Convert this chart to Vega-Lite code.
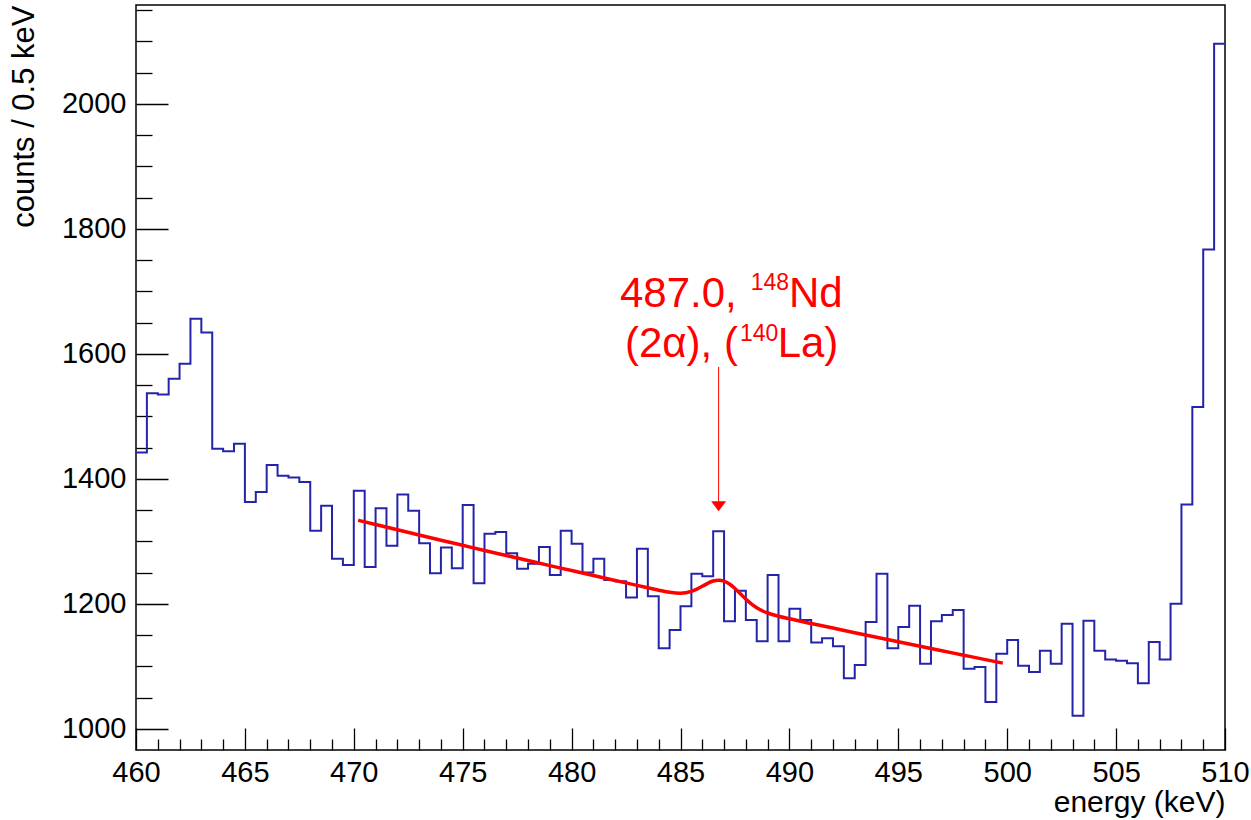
{
  "$schema": "https://vega.github.io/schema/vega-lite/v6.json",
  "width": 1089,
  "height": 745,
  "autosize": {"type": "none"},
  "padding": {"left": 136, "top": 5, "right": 26, "bottom": 70},
  "background": "white",
  "config": {
    "view": {"stroke": "#000", "strokeWidth": 1.5},
    "axis": {
      "labelFont": "Liberation Sans",
      "titleFont": "Liberation Sans",
      "labelColor": "#000",
      "titleColor": "#000",
      "labelFontWeight": "normal",
      "titleFontWeight": "normal",
      "grid": false,
      "domain": false,
      "tickColor": "#000",
      "tickWidth": 1.3
    }
  },
  "datasets": {
    "hist": [
      {"e": 460.0, "c": 1442}, {"e": 460.5, "c": 1537}, {"e": 461.0, "c": 1535}, {"e": 461.5, "c": 1560},
      {"e": 462.0, "c": 1584}, {"e": 462.5, "c": 1656}, {"e": 463.0, "c": 1634}, {"e": 463.5, "c": 1448},
      {"e": 464.0, "c": 1444}, {"e": 464.5, "c": 1456}, {"e": 465.0, "c": 1363}, {"e": 465.5, "c": 1379},
      {"e": 466.0, "c": 1422}, {"e": 466.5, "c": 1405}, {"e": 467.0, "c": 1402}, {"e": 467.5, "c": 1395},
      {"e": 468.0, "c": 1317}, {"e": 468.5, "c": 1357}, {"e": 469.0, "c": 1272}, {"e": 469.5, "c": 1262},
      {"e": 470.0, "c": 1381}, {"e": 470.5, "c": 1259}, {"e": 471.0, "c": 1353}, {"e": 471.5, "c": 1293},
      {"e": 472.0, "c": 1375}, {"e": 472.5, "c": 1349}, {"e": 473.0, "c": 1297}, {"e": 473.5, "c": 1249},
      {"e": 474.0, "c": 1290}, {"e": 474.5, "c": 1257}, {"e": 475.0, "c": 1358}, {"e": 475.5, "c": 1233},
      {"e": 476.0, "c": 1312}, {"e": 476.5, "c": 1315}, {"e": 477.0, "c": 1281}, {"e": 477.5, "c": 1256},
      {"e": 478.0, "c": 1264}, {"e": 478.5, "c": 1291}, {"e": 479.0, "c": 1246}, {"e": 479.5, "c": 1317},
      {"e": 480.0, "c": 1296}, {"e": 480.5, "c": 1250}, {"e": 481.0, "c": 1272}, {"e": 481.5, "c": 1238},
      {"e": 482.0, "c": 1236}, {"e": 482.5, "c": 1210}, {"e": 483.0, "c": 1288}, {"e": 483.5, "c": 1212},
      {"e": 484.0, "c": 1129}, {"e": 484.5, "c": 1158}, {"e": 485.0, "c": 1196}, {"e": 485.5, "c": 1248},
      {"e": 486.0, "c": 1244}, {"e": 486.5, "c": 1316}, {"e": 487.0, "c": 1172}, {"e": 487.5, "c": 1221},
      {"e": 488.0, "c": 1174}, {"e": 488.5, "c": 1140}, {"e": 489.0, "c": 1246}, {"e": 489.5, "c": 1140},
      {"e": 490.0, "c": 1192}, {"e": 490.5, "c": 1174}, {"e": 491.0, "c": 1138}, {"e": 491.5, "c": 1145},
      {"e": 492.0, "c": 1132}, {"e": 492.5, "c": 1081}, {"e": 493.0, "c": 1102}, {"e": 493.5, "c": 1171},
      {"e": 494.0, "c": 1248}, {"e": 494.5, "c": 1129}, {"e": 495.0, "c": 1163}, {"e": 495.5, "c": 1197},
      {"e": 496.0, "c": 1104}, {"e": 496.5, "c": 1172}, {"e": 497.0, "c": 1182}, {"e": 497.5, "c": 1190},
      {"e": 498.0, "c": 1096}, {"e": 498.5, "c": 1099}, {"e": 499.0, "c": 1043}, {"e": 499.5, "c": 1120},
      {"e": 500.0, "c": 1142}, {"e": 500.5, "c": 1101}, {"e": 501.0, "c": 1091}, {"e": 501.5, "c": 1125},
      {"e": 502.0, "c": 1104}, {"e": 502.5, "c": 1168}, {"e": 503.0, "c": 1021}, {"e": 503.5, "c": 1173},
      {"e": 504.0, "c": 1125}, {"e": 504.5, "c": 1111}, {"e": 505.0, "c": 1109}, {"e": 505.5, "c": 1105},
      {"e": 506.0, "c": 1073}, {"e": 506.5, "c": 1139}, {"e": 507.0, "c": 1111}, {"e": 507.5, "c": 1200},
      {"e": 508.0, "c": 1359}, {"e": 508.5, "c": 1515}, {"e": 509.0, "c": 1767}, {"e": 509.5, "c": 2096},
      {"e": 510.0, "c": 2096}
    ],
    "fit": [
      {"e": 470.2, "f": 1333.6}, {"e": 471, "f": 1326.8}, {"e": 472, "f": 1318.4}, {"e": 473, "f": 1310.0},
      {"e": 474, "f": 1301.7}, {"e": 475, "f": 1293.5}, {"e": 476, "f": 1285.3}, {"e": 477, "f": 1277.2},
      {"e": 478, "f": 1269.1}, {"e": 479, "f": 1261.0}, {"e": 480, "f": 1253.1}, {"e": 481, "f": 1245.1},
      {"e": 482, "f": 1237.3}, {"e": 483, "f": 1229.4}, {"e": 484, "f": 1221.7}, {"e": 484.5, "f": 1218.4},
      {"e": 485, "f": 1217.0}, {"e": 485.5, "f": 1219.8}, {"e": 485.75, "f": 1223.3}, {"e": 486, "f": 1227.9},
      {"e": 486.25, "f": 1232.7}, {"e": 486.5, "f": 1236.4}, {"e": 486.75, "f": 1237.7}, {"e": 487, "f": 1236.3},
      {"e": 487.25, "f": 1231.6}, {"e": 487.5, "f": 1224.4}, {"e": 487.75, "f": 1215.9}, {"e": 488, "f": 1207.4},
      {"e": 488.25, "f": 1199.9}, {"e": 488.5, "f": 1193.7}, {"e": 489, "f": 1185.2}, {"e": 489.5, "f": 1180.0},
      {"e": 490, "f": 1175.9}, {"e": 491, "f": 1168.5}, {"e": 492, "f": 1161.1}, {"e": 493, "f": 1153.7},
      {"e": 494, "f": 1146.4}, {"e": 495, "f": 1139.2}, {"e": 496, "f": 1132.0}, {"e": 497, "f": 1124.8},
      {"e": 498, "f": 1117.7}, {"e": 499, "f": 1110.6}, {"e": 499.8, "f": 1105.0}
    ],
    "mainText": [
      {"e": 482.22, "v": 1675, "t": "487.0,"},
      {"e": 489.98, "v": 1675, "t": "Nd"},
      {"e": 482.45, "v": 1595, "t": "(2α), ("},
      {"e": 489.46, "v": 1595, "t": "La)"}
    ],
    "supText": [
      {"e": 488.22, "v": 1702, "t": "148"},
      {"e": 487.73, "v": 1620, "t": "140"}
    ],
    "arrow": [
      {"e": 486.75, "top": 1579, "bot": 1362, "head": 1356}
    ]
  },
  "resolve": {"axis": {"x": "independent", "y": "independent"}},
  "layer": [
    {
      "data": {"name": "hist"},
      "mark": {"type": "line", "interpolate": "step-after", "color": "#2424aa", "strokeWidth": 2},
      "encoding": {
        "x": {
          "field": "e", "type": "quantitative",
          "scale": {"domain": [460, 510], "nice": false, "zero": false},
          "axis": {
            "orient": "bottom",
            "values": [460, 465, 470, 475, 480, 485, 490, 495, 500, 505, 510],
            "format": "d",
            "ticks": false, "labelPadding": 8, "labelFontSize": 29, "labelFlush": false,
            "title": "energy (keV)", "titleFontSize": 30, "titleAlign": "right", "titleAnchor": "end",
            "titleX": 1089, "titleY": 61, "titleBaseline": "alphabetic"
          }
        },
        "y": {
          "field": "c", "type": "quantitative",
          "scale": {"domain": [966, 2158], "nice": false, "zero": false},
          "axis": {
            "orient": "left",
            "values": [1000, 1200, 1400, 1600, 1800, 2000],
            "format": "d",
            "ticks": false, "labelPadding": 10, "labelFontSize": 29,
            "title": "counts / 0.5 keV", "titleFontSize": 31, "titleAngle": -90, "titleAlign": "right",
            "titleAnchor": "end", "titleX": -103, "titleY": 0, "titleBaseline": "alphabetic"
          }
        }
      }
    },
    {
      "data": {"name": "fit"},
      "mark": {"type": "line", "interpolate": "monotone", "color": "#ff0000", "strokeWidth": 3.5},
      "encoding": {
        "x": {
          "field": "e", "type": "quantitative",
          "scale": {"domain": [460, 510], "nice": false, "zero": false},
          "axis": {
            "orient": "bottom",
            "values": [461,462,463,464,466,467,468,469,471,472,473,474,476,477,478,479,481,482,483,484,486,487,488,489,491,492,493,494,496,497,498,499,501,502,503,504,506,507,508,509],
            "labels": false, "tickSize": -11, "title": null
          }
        },
        "y": {
          "field": "f", "type": "quantitative",
          "scale": {"domain": [966, 2158], "nice": false, "zero": false},
          "axis": {
            "orient": "left",
            "values": [1050, 1100, 1150, 1250, 1300, 1350, 1450, 1500, 1550, 1650, 1700, 1750, 1850, 1900, 1950, 2050, 2100, 2150],
            "labels": false, "tickSize": -16, "title": null
          }
        }
      }
    },
    {
      "data": {"name": "mainText"},
      "mark": {"type": "text", "color": "#ff0000", "font": "Liberation Sans", "fontSize": 42, "align": "left", "baseline": "alphabetic"},
      "encoding": {
        "x": {
          "field": "e", "type": "quantitative",
          "scale": {"domain": [460, 510], "nice": false, "zero": false},
          "axis": {
            "orient": "bottom",
            "values": [460, 465, 470, 475, 480, 485, 490, 495, 500, 505, 510],
            "labels": false, "tickSize": -22, "title": null
          }
        },
        "y": {
          "field": "v", "type": "quantitative",
          "scale": {"domain": [966, 2158], "nice": false, "zero": false},
          "axis": {
            "orient": "left",
            "values": [1000, 1200, 1400, 1600, 1800, 2000],
            "labels": false, "tickSize": -32, "title": null
          }
        },
        "text": {"field": "t"}
      }
    },
    {
      "data": {"name": "supText"},
      "mark": {"type": "text", "color": "#ff0000", "font": "Liberation Sans", "fontSize": 23, "align": "left", "baseline": "alphabetic"},
      "encoding": {
        "x": {"field": "e", "type": "quantitative", "scale": {"domain": [460, 510], "nice": false, "zero": false}, "axis": null},
        "y": {"field": "v", "type": "quantitative", "scale": {"domain": [966, 2158], "nice": false, "zero": false}, "axis": null},
        "text": {"field": "t"}
      }
    },
    {
      "data": {"name": "arrow"},
      "mark": {"type": "rule", "color": "#ff0000", "strokeWidth": 1},
      "encoding": {
        "x": {"field": "e", "type": "quantitative", "scale": {"domain": [460, 510], "nice": false, "zero": false}, "axis": null},
        "y": {"field": "top", "type": "quantitative", "scale": {"domain": [966, 2158], "nice": false, "zero": false}, "axis": null},
        "y2": {"field": "bot"}
      }
    },
    {
      "data": {"name": "arrow"},
      "mark": {"type": "point", "shape": "M-1,-0.66L1,-0.66L0,0.66Z", "filled": true, "color": "#ff0000", "size": 225, "opacity": 1},
      "encoding": {
        "x": {"field": "e", "type": "quantitative", "scale": {"domain": [460, 510], "nice": false, "zero": false}, "axis": null},
        "y": {"field": "head", "type": "quantitative", "scale": {"domain": [966, 2158], "nice": false, "zero": false}, "axis": null}
      }
    }
  ]
}
